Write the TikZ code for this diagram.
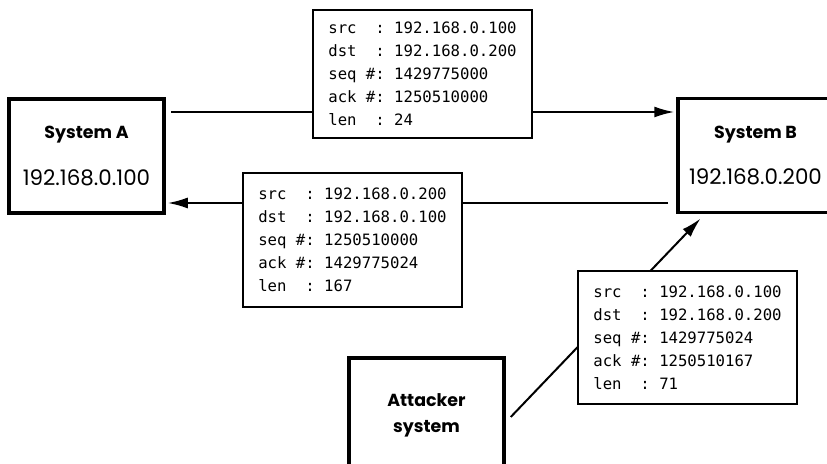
\documentclass[tikz,border=0pt]{standalone}
\usepackage{fontspec}
\setmainfont{Poppins}
\setmonofont{DejaVu Sans Mono}
\usetikzlibrary{arrows.meta,positioning}

\begin{document}
\begin{tikzpicture}[x=1bp,y=-1bp,
  sysbox/.style={draw,line width=3.5bp,minimum width=155bp,minimum height=114bp,align=center,font=\fontsize{21.5}{22}\selectfont},
  pkt/.style={draw,fill=white,line width=1.2bp,minimum width=219bp,align=left,font=\fontsize{15.7}{23}\selectfont\ttfamily},
  flow/.style={line width=2bp,shorten >=2bp,-{Latex[length=20bp,width=11bp]}}]
\useasboundingbox (0,0) rectangle (827,464);
\node[sysbox] (sysA) at (86.5,156) {{\fontsize{17.5}{22}\selectfont\bfseries System A}\\[25bp]192.168.0.100};
\node[sysbox] (sysB) at (755.5,155.5) {{\fontsize{17.5}{22}\selectfont\bfseries System B}\\[25bp]192.168.0.200};
\node[sysbox,font=\fontsize{17.5}{26}\selectfont\bfseries] (atk) at (426.5,415) {Attacker\\system};
\coordinate (ab) at (171,112);
\coordinate (ba) at (668,203);
\coordinate (hit) at (702,217);
\draw[flow] (ab) -- (ab -| sysB.west);
\draw[flow] (ba) -- (ba -| sysA.east);
\draw[flow] ([shift={(5,2)}]atk.east) -- (hit);
\node[pkt,minimum height=128bp] (pktAB) at (422.5,74) {src\ \ : 192.168.0.100\\dst\ \ : 192.168.0.200\\seq \#: 1429775000\\ack \#: 1250510000\\len\ \ : 24};
\node[pkt,minimum height=134bp] (pktBA) at (352.5,240) {src\ \ : 192.168.0.200\\dst\ \ : 192.168.0.100\\seq \#: 1250510000\\ack \#: 1429775024\\len\ \ : 167};
\node[pkt,minimum height=133bp] (pktAtk) at (687.5,337.5) {src\ \ : 192.168.0.100\\dst\ \ : 192.168.0.200\\seq \#: 1429775024\\ack \#: 1250510167\\len\ \ : 71};
\end{tikzpicture}
\end{document}
